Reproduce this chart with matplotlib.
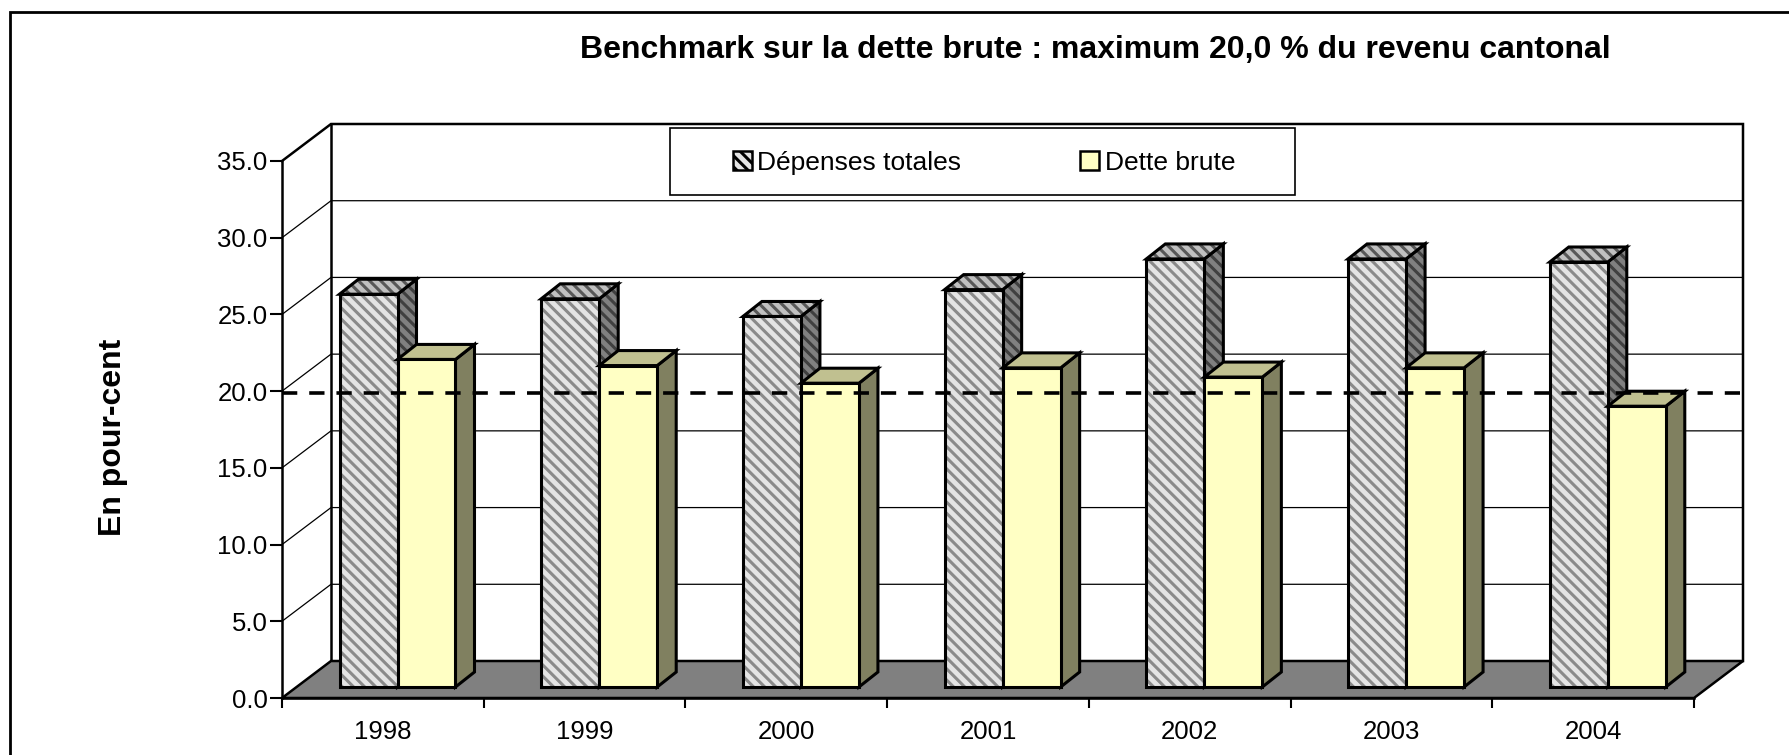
import matplotlib
matplotlib.use("Agg")
import matplotlib.pyplot as plt
from matplotlib.lines import Line2D
from matplotlib.patches import Patch, Polygon, Rectangle

W, H = 1789, 755

annees = ["1998", "1999", "2000", "2001", "2002", "2003", "2004"]
depenses = [25.6, 25.3, 24.15, 25.9, 27.9, 27.9, 27.7]
dette = [21.35, 20.95, 19.8, 20.8, 20.2, 20.8, 18.3]
graduations = [0, 5, 10, 15, 20, 25, 30, 35]
benchmark = 19.9

plt.rcParams["font.family"] = ["Liberation Sans", "DejaVu Sans"]
plt.rcParams["hatch.linewidth"] = 2.2
plt.rcParams["lines.scale_dashes"] = False

# couleurs (face, hachure)
GRIS_FACE = ("#e4e4e4", "#8a8a8a")
GRIS_COTE = ("#808080", "#404040")
GRIS_DESSUS = ("#c0c0c0", "#585858")
JAUNE_FACE = "#ffffc4"
JAUNE_COTE = "#808060"
JAUNE_DESSUS = "#c0c090"
HACHURE = "\\\\\\"

fig = plt.figure(figsize=(W / 100, H / 100), dpi=100, facecolor="white")
ax = fig.add_axes([282 / W, (H - 698) / H, 1412 / W, 537 / H])
ax.patch.set_visible(False)
ax.set_xlim(0, len(annees))
ax.set_ylim(0, 35)

# effet 3D, converti de pixels en unites des axes
px_x = len(annees) / 1412
px_y = 35 / 537
prof_x = 49 * px_x
prof_y = 37 * px_y
base_x = 14.5 * px_x
base_y = 11 * px_y
barre_x = 19 * px_x
barre_y = 15 * px_y
larg = 58 * px_x
marge = 43 * px_x


def poly(points, fc, hatch=None, ec="black", lw=2.2, z=3):
    if hatch:
        ax.add_patch(Polygon(points, closed=True, fc=fc, ec=hatch, hatch=HACHURE, lw=0,
                             zorder=z, clip_on=False))
        ax.add_patch(Polygon(points, closed=True, fill=False, ec=ec, lw=lw, zorder=z,
                             clip_on=False, joinstyle="miter"))
    else:
        ax.add_patch(Polygon(points, closed=True, fc=fc, ec=ec, lw=lw, zorder=z,
                             clip_on=False, joinstyle="miter"))


def barre(x0, v, face, cote, dessus, z):
    x1 = x0 + larg
    y0 = base_y
    y1 = base_y + v
    hf = face if isinstance(face, tuple) else (face, None)
    hc = cote if isinstance(cote, tuple) else (cote, None)
    hd = dessus if isinstance(dessus, tuple) else (dessus, None)
    poly([(x1, y0), (x1 + barre_x, y0 + barre_y), (x1 + barre_x, y1 + barre_y), (x1, y1)],
         hc[0], hc[1], z=z)
    poly([(x0, y1), (x1, y1), (x1 + barre_x, y1 + barre_y), (x0 + barre_x, y1 + barre_y)],
         hd[0], hd[1], z=z)
    poly([(x0, y0), (x1, y0), (x1, y1), (x0, y1)], hf[0], hf[1], z=z)


# murs et grille
n = len(annees)
for g in graduations[1:-1]:
    ax.plot([0, prof_x, n + prof_x], [g, g + prof_y, g + prof_y], color="black", lw=0.9,
            zorder=1, clip_on=False)
ax.plot([0, prof_x, n + prof_x, n + prof_x], [35, 35 + prof_y, 35 + prof_y, prof_y],
        color="black", lw=1.8, zorder=1, clip_on=False, solid_joinstyle="miter")
ax.plot([prof_x, prof_x], [prof_y, 35 + prof_y], color="black", lw=1.8, zorder=1, clip_on=False)

# sol
poly([(0, 0), (n, 0), (n + prof_x, prof_y), (prof_x, prof_y)], "#808080", lw=1.8, z=2)

# barres
z = 3
for i in range(n):
    x0 = i + marge + base_x
    barre(x0, depenses[i], GRIS_FACE, GRIS_COTE, GRIS_DESSUS, z)
    barre(x0 + larg, dette[i], JAUNE_FACE, JAUNE_COTE, JAUNE_DESSUS, z + 1)
    z += 2

# ligne du benchmark
ax.plot([0, n + 46 * px_x], [benchmark, benchmark], color="black", lw=2.6, zorder=z,
        linestyle=(0, (11, 8.6)), dash_capstyle="butt", clip_on=False)

# axes
for s in ["top", "right"]:
    ax.spines[s].set_visible(False)
for s in ["left", "bottom"]:
    ax.spines[s].set_linewidth(1.8)
    ax.spines[s].set_zorder(z + 1)
ax.set_yticks(graduations)
ax.set_yticklabels([f"{g:.1f}" for g in graduations], fontsize=18.5)
ax.set_xticks(range(n + 1))
ax.set_xticklabels([])
ax.set_xticks([i + 0.5 for i in range(n)], minor=True)
ax.set_xticklabels(annees, minor=True, fontsize=18.5)
ax.tick_params(axis="y", length=8.5, width=1.5, pad=2, colors="black")
ax.tick_params(axis="x", which="major", length=7.5, width=1.5)
ax.tick_params(axis="x", which="minor", length=0, pad=16)

# cadre exterieur, ouvert a droite et en bas
fig.add_artist(Line2D([10 / W, 10 / W, 1], [0, 1 - 12 / H, 1 - 12 / H], color="black", lw=2.0,
                      solid_joinstyle="miter"))

fig.text(1095 / W, 1 - 50 / H, "Benchmark sur la dette brute : maximum 20,0 % du revenu cantonal",
         ha="center", va="center", fontsize=23, fontweight="bold")
fig.text(113 / W, 1 - 437 / H, "En pour-cent", rotation=90, ha="center", va="center",
         fontsize=23, fontweight="bold")

# legende
fig.add_artist(Rectangle((670 / W, 1 - 195 / H), 625 / W, 67 / H, transform=fig.transFigure,
                         fc="white", ec="black", lw=1.2, zorder=5))
poignees = [Patch(fc=GRIS_FACE[0], ec="black", hatch=HACHURE, lw=1.8),
            Patch(fc=JAUNE_FACE, ec="black", lw=1.8)]
leg = fig.legend(poignees, ["Dépenses totales", "Dette brute"], loc="center",
                 bbox_to_anchor=(984 / W, 1 - 163 / H), ncol=2, frameon=False, fontsize=19,
                 handlelength=0.72, handleheight=0.72, handletextpad=0.22, columnspacing=4.5)
leg.set_zorder(6)

fig.savefig("out.png", dpi=100, facecolor="white")
